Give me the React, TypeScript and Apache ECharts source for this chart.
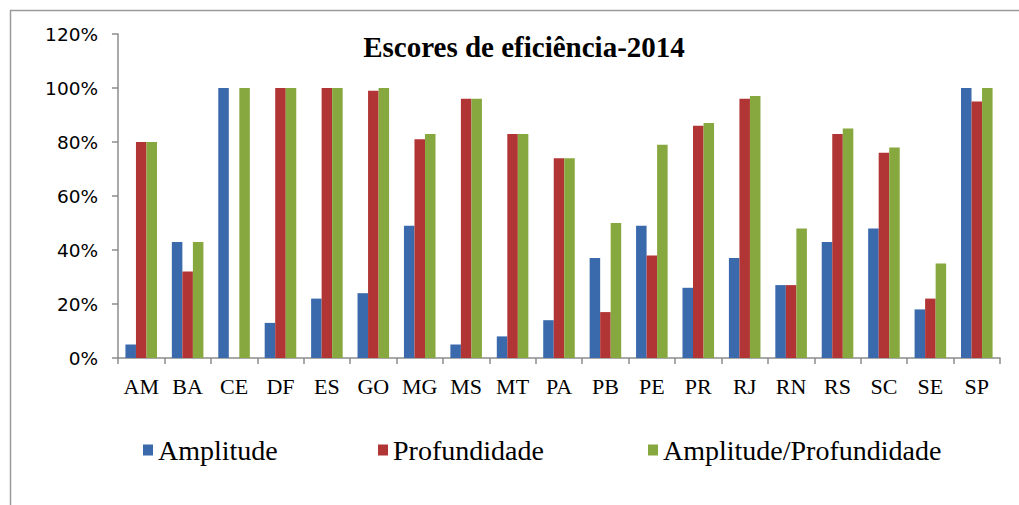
import React, { useEffect, useRef } from "react";
import * as echarts from "echarts";

const categories = ["AM", "BA", "CE", "DF", "ES", "GO", "MG", "MS", "MT", "PA", "PB", "PE", "PR", "RJ", "RN", "RS", "SC", "SE", "SP"];
const amplitude = [5, 43, 100, 13, 22, 24, 49, 5, 8, 14, 37, 49, 26, 37, 27, 43, 48, 18, 100];
const profundidade = [80, 32, 0, 100, 100, 99, 81, 96, 83, 74, 17, 38, 86, 96, 27, 83, 76, 22, 95];
const ampProf = [80, 43, 100, 100, 100, 100, 83, 96, 83, 74, 50, 79, 87, 97, 48, 85, 78, 35, 100];
const seriesNames = ["Amplitude", "Profundidade", "Amplitude/Profundidade"];
const colors = ["#3A69AC", "#B13535", "#87A83F"];
const titleText = "Escores de eficiência-2014";

export default function App() {
  const ref = useRef<HTMLDivElement>(null);
  useEffect(() => {
    if (!ref.current) return;
    const chart = echarts.init(ref.current, null, { renderer: "svg" });
    const dataSets = [amplitude, profundidade, ampProf];
    const legendLefts = [138, 373, 643];
    chart.setOption({
      animation: false,
      backgroundColor: "#ffffff",
      title: {
        text: titleText,
        left: 519,
        top: 27,
        textAlign: "center",
        textStyle: { fontFamily: "Liberation Serif", fontWeight: "bold", fontSize: 29, color: "#000" },
      },
      legend: seriesNames.map((n, i) => ({
        data: [n],
        left: legendLefts[i],
        top: 431,
        itemWidth: 10,
        itemHeight: 11,
        itemGap: 0,
        icon: "rect",
        textStyle: { fontFamily: "Liberation Serif", fontSize: 28, color: "#000" },
      })),
      grid: { left: 118, right: 19, top: 34, bottom: 147 },
      xAxis: {
        type: "category",
        data: categories,
        axisLine: { lineStyle: { color: "#8c8c8c", width: 1.5 } },
        axisTick: { show: true, length: 6, lineStyle: { color: "#8c8c8c", width: 1.5 } },
        axisLabel: { fontFamily: "Liberation Serif", fontSize: 22, color: "#000", margin: 17, interval: 0 },
      },
      yAxis: {
        type: "value",
        min: 0,
        max: 120,
        interval: 20,
        axisLine: { show: true, lineStyle: { color: "#8c8c8c", width: 1.5 } },
        axisTick: { show: true, length: 6, lineStyle: { color: "#8c8c8c", width: 1.5 } },
        splitLine: { show: false },
        axisLabel: { fontFamily: "DejaVu Sans", fontSize: 18.5, color: "#000", margin: 20, formatter: "{value}%" },
      },
      graphic: [
        {
          type: "rect",
          shape: { x: 10.5, y: 10.5, width: 1100, height: 600 },
          style: { fill: "none", stroke: "#9a9a9a", lineWidth: 1.5 },
          silent: true,
        },
      ],
      series: seriesNames.map((n, i) => ({
        name: n,
        type: "bar",
        data: dataSets[i],
        itemStyle: { color: colors[i] },
        barGap: "0%",
        barCategoryGap: "32%",
      })),
    });
    return () => chart.dispose();
  }, []);
  return <div ref={ref} style={{ position: "fixed", left: 0, top: 0, width: 1019, height: 505 }} />;
}
